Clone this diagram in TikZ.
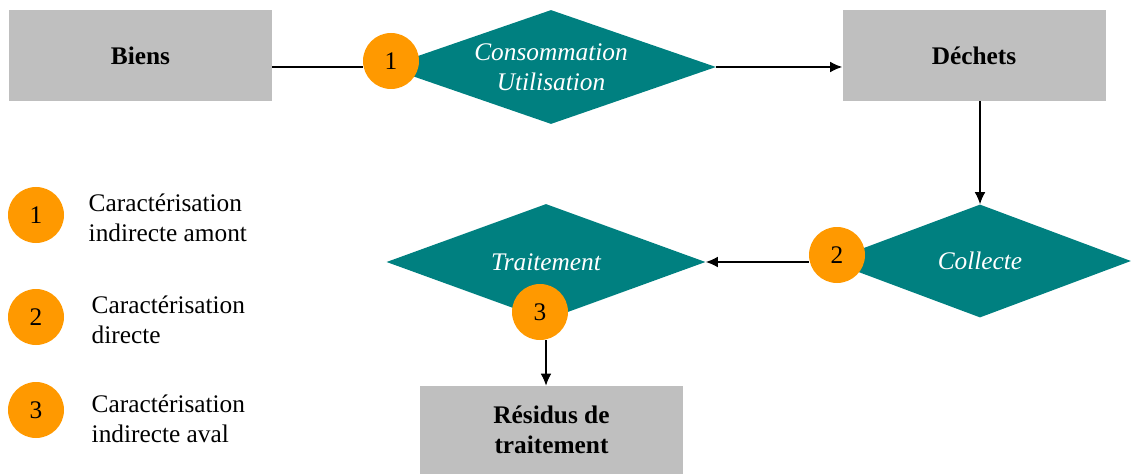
\documentclass[tikz,border=0pt]{standalone}
\usepackage{fontspec}
\setmainfont{Liberation Serif}
\usepackage{tikz}
\usepackage{xcolor}
\usetikzlibrary{shapes.geometric, positioning, arrows.meta}
\definecolor{grisboite}{RGB}{191,191,191}
\definecolor{vertlosange}{RGB}{0,128,128}
\definecolor{orangepastille}{RGB}{255,153,0}
\newcommand{\taille}{\fontsize{19}{22.5}\selectfont}

\begin{document}
\begin{tikzpicture}[x=0.75pt, y=-0.75pt, font=\taille,
  boite/.style={fill=grisboite, minimum width=197.25pt, minimum height=68.25pt, font=\taille\bfseries, align=center},
  losange/.style={diamond, fill=vertlosange, text=white, inner sep=0pt, aspect=2.9, font=\taille\itshape, align=center},
  pastille/.style={circle, fill=orangepastille, minimum size=42pt, inner sep=0pt},
  legende/.style={anchor=west, align=left},
  fleche/.style={-{Latex[length=9pt, width=8pt]}, line width=1pt}]
\useasboundingbox (0,0) rectangle (1131,474);
% les boites
\node[boite] (biens) at (140.5,55.5) {Biens};
\node[boite] (dechets) at (974,55.5) {D\'echets};
\node[boite, minimum height=66pt] (residus) at (551.5,430) {R\'esidus de\\traitement};
% les losanges
\node[losange, minimum width=247.5pt, minimum height=85.5pt] (conso) at (551,67) {Consommation\\Utilisation};
\node[losange, minimum width=226.5pt, minimum height=84.75pt] (collecte) at (980,261) {Collecte};
\node[losange, minimum width=239.25pt, minimum height=87pt] (traitement) at (546,262) {Traitement};
% les pastilles
\node[pastille] (p1) at (391,61) {1};
\node[pastille] (p2) at (837,255) {2};
\node[pastille] (p3) at (540,312) {3};
% les liaisons
\draw[line width=1pt] (biens.east |- conso) -- (p1.west |- conso);
\draw[fleche] (conso.east) -- (dechets.west |- conso.east);
\draw[fleche] (dechets.south -| collecte.north) -- (collecte.north);
\draw[fleche] (p2.west |- traitement.east) -- (traitement.east);
\draw[fleche] (traitement.center |- p3.south) -- (traitement.center |- residus.north);
% la legende
\node[pastille] (l1) at (36,215) {1};
\node[pastille] (l2) at (36,317) {2};
\node[pastille] (l3) at (36,410) {3};
\node[legende] (t1) at (84,218) {Caract\'erisation\\indirecte amont};
\node[legende] (t2) at (87,320) {Caract\'erisation\\directe};
\node[legende] (t3) at (87,419) {Caract\'erisation\\indirecte aval};
\end{tikzpicture}
\end{document}
